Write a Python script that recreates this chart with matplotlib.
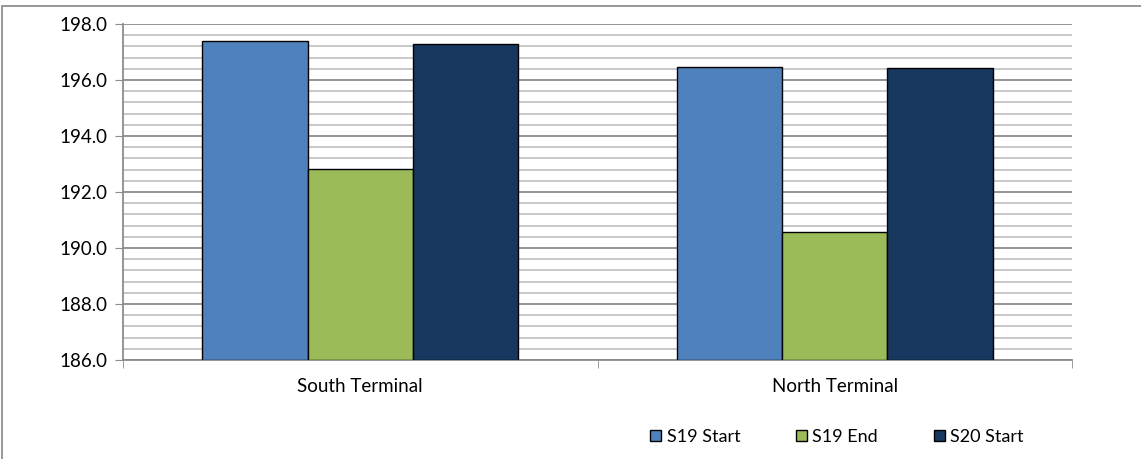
import matplotlib.pyplot as plt
import numpy as np
from matplotlib.patches import Rectangle
from matplotlib.ticker import MultipleLocator, FormatStrFormatter

# --- data -----------------------------------------------------------------
terminals = ["South Terminal", "North Terminal"]
series = ["S19 Start", "S19 End", "S20 Start"]
s19_start = [197.38, 196.46]
s19_end = [192.82, 190.56]
s20_start = [197.27, 196.42]
colors = ["#4f81bd", "#9bbb59", "#17375e"]
# --------------------------------------------------------------------------

plt.rcParams["font.family"] = ["Lato", "DejaVu Sans"]

fig = plt.figure(figsize=(11.41, 4.59), dpi=100)
ax = fig.add_axes([123 / 1141, 1 - 360 / 459, 949 / 1141, 336 / 459])

# outer chart border
fig.patches.append(Rectangle((2 / 1141, -0.01), 1.2, 1 - 1.5 / 459, transform=fig.transFigure,
                             fill=False, edgecolor="#868686", linewidth=1.2))

x = np.arange(len(terminals))
w = 0.222
for i, (vals, c, name) in enumerate(zip([s19_start, s19_end, s20_start], colors, series)):
    ax.bar(x + (i - 1) * w, np.array(vals) - 186, bottom=186, width=w, color=c,
           edgecolor="black", linewidth=1.0, label=name, zorder=3)

ax.set_xlim(-0.5, 1.5)
ax.set_ylim(186, 198)
ax.yaxis.set_major_locator(MultipleLocator(2))
ax.yaxis.set_minor_locator(MultipleLocator(0.4))
ax.yaxis.set_major_formatter(FormatStrFormatter("%.1f"))
ax.grid(axis="y", which="major", color="#8c8c8c", linewidth=1.3, zorder=0)
ax.grid(axis="y", which="minor", color="#c4c4c4", linewidth=1.3, zorder=0)

ax.set_xticks(x)
ax.set_xticklabels(terminals, fontsize=13.5)
ax.set_xticks([-0.5, 0.5, 1.5], minor=True)
ax.tick_params(axis="x", which="major", length=0, pad=13)
ax.tick_params(axis="x", which="minor", length=6, color="#8c8c8c", direction="out")
ax.tick_params(axis="y", which="major", length=6, color="#8c8c8c", labelsize=13.5, pad=5)
ax.tick_params(axis="y", which="minor", length=0)

for s in ["top", "right"]:
    ax.spines[s].set_visible(False)
for s in ["left", "bottom"]:
    ax.spines[s].set_color("#8c8c8c")
    ax.spines[s].set_linewidth(1.3)

leg = fig.legend(loc="center", bbox_to_anchor=(837 / 1141, 1 - 437 / 459), ncol=3,
                 frameon=False, fontsize=13, handlelength=0.6, handleheight=0.6,
                 handletextpad=0.3, columnspacing=3.1)

fig.savefig("out.png", dpi=100)
